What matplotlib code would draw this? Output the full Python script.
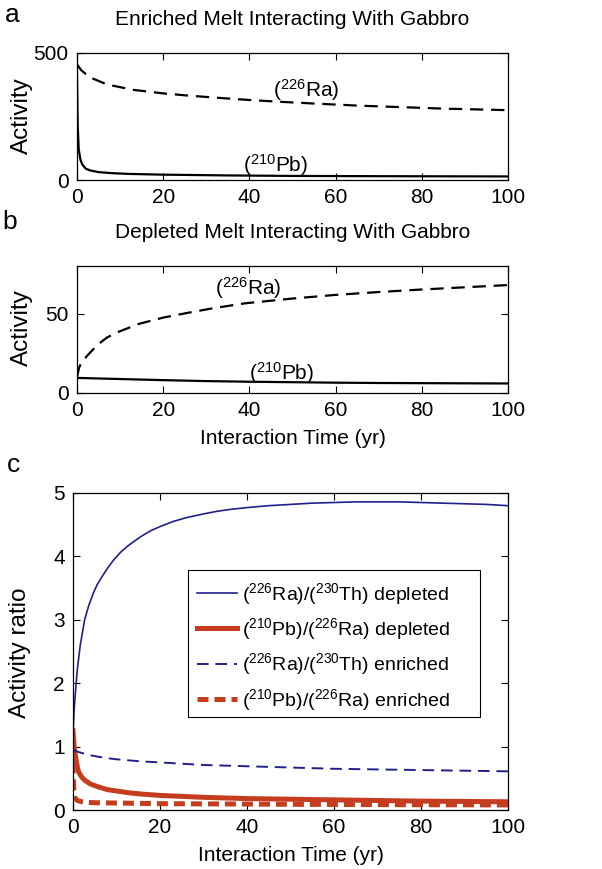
import matplotlib
matplotlib.use("Agg")
import matplotlib.pyplot as plt
from matplotlib.patches import Rectangle

plt.rcParams['font.family'] = ['Liberation Sans', 'DejaVu Sans']
plt.rcParams['mathtext.fontset'] = 'custom'
plt.rcParams['mathtext.rm'] = 'Liberation Sans'
plt.rcParams['mathtext.it'] = 'Liberation Sans:italic'
plt.rcParams['mathtext.bf'] = 'Liberation Sans:bold'

# ---------------- data ----------------
# Panel a: enriched melt
t_a_ra = [0, 1, 3, 7, 13, 20, 26, 34, 40, 47, 55, 65, 75, 85, 100]
ra_enriched = [455, 432, 404, 376, 355, 341, 332, 322, 315, 308, 301, 293, 287, 281, 275]
t_a_pb = [0, 0.15, 0.4, 0.8, 1.2, 2, 3, 5, 8, 12, 20, 35, 50, 70, 100]
pb_enriched = [420, 220, 120, 80, 62, 45, 38, 31, 27, 24, 21, 18, 16, 15, 14]

# Panel b: depleted melt
t_b_ra = [0, 0.5, 1, 2.2, 4.8, 7, 9.6, 14.3, 20, 25.7, 31.8, 39, 50, 60, 70, 80, 90, 100]
ra_depleted = [10, 16, 19, 23, 30.5, 35, 38.5, 43.5, 47.5, 50.5, 53.5, 56.5, 59.5, 61.8, 63.6, 65.2, 66.6, 68]
t_b_pb = [0, 10, 20, 30, 40, 50, 60, 70, 80, 90, 100]
pb_depleted = [9.5, 8.8, 8.1, 7.5, 7.1, 6.8, 6.5, 6.3, 6.2, 6.1, 6.0]

# Panel c: activity ratios
t_c1 = [0, 0.3, 0.67, 1, 1.67, 2.67, 3.6, 4.67, 5.6, 6.67, 8, 9.3, 11, 12.7, 14.5, 16, 18, 20, 23, 26,
        30, 33, 36, 40, 45, 50, 55, 60, 65, 70, 75, 80, 85, 90, 95, 100]
rath_depleted = [1.2, 1.62, 1.95, 2.22, 2.6, 3.0, 3.22, 3.42, 3.56, 3.68, 3.82, 3.94, 4.07, 4.17, 4.26,
                 4.33, 4.41, 4.47, 4.55, 4.61, 4.67, 4.71, 4.74, 4.77, 4.80, 4.82, 4.84, 4.85, 4.86,
                 4.86, 4.86, 4.85, 4.84, 4.83, 4.82, 4.8]
t_c2 = [0, 0.15, 0.3, 0.5, 0.7, 1, 1.3, 2, 2.7, 4, 6, 8, 10, 13, 16, 20, 25, 30, 40, 50, 60, 70, 80, 90, 100]
pbra_depleted = [1.25, 1.1, 0.98, 0.87, 0.8, 0.68, 0.6, 0.52, 0.47, 0.41, 0.36, 0.32, 0.3, 0.27, 0.25,
                 0.23, 0.215, 0.2, 0.18, 0.17, 0.16, 0.15, 0.14, 0.135, 0.13]
t_c3 = [0, 1, 2, 3.5, 5, 7.5, 10, 15, 20, 25, 30, 40, 50, 60, 70, 80, 90, 100]
rath_enriched = [0.95, 0.92, 0.9, 0.87, 0.85, 0.82, 0.8, 0.77, 0.75, 0.73, 0.71, 0.69, 0.67, 0.65, 0.64,
                 0.63, 0.62, 0.61]
t_c4 = [0, 0.1, 0.2, 0.3, 0.5, 1, 2, 3, 5, 10, 20, 35, 50, 70, 100]
pbra_enriched = [0.75, 0.5, 0.32, 0.22, 0.18, 0.15, 0.13, 0.12, 0.115, 0.11, 0.1, 0.095, 0.09, 0.085, 0.08]

x_ticks = [0, 20, 40, 60, 80, 100]

legend_labels = [r'($^{226}$Ra)/($^{230}$Th) depleted',
                 r'($^{210}$Pb)/($^{226}$Ra) depleted',
                 r'($^{226}$Ra)/($^{230}$Th) enriched',
                 r'($^{210}$Pb)/($^{226}$Ra) enriched']

BLUE = '#20208a'
RED = '#c63c1e'
FS = 15
YFS = 17.5
W, H = 602, 869

fig = plt.figure(figsize=(6.02, 8.69), dpi=100)

def fx(px):
    return px / W

def fy(py):
    return 1 - py / H

def style(ax):
    ax.set_xlim(0, 100)
    ax.set_xticks(x_ticks)
    ax.tick_params(direction='in', length=5, width=0.8, top=True, right=True,
                   labelsize=FS, pad=6)
    for s in ax.spines.values():
        s.set_linewidth(0.9)

# Panel a
ax1 = fig.add_axes([fx(77), fy(180), 431 / W, 127 / H])
ax1.plot(t_a_ra, ra_enriched, color='black', lw=1.6, ls=(0, (6, 3.5)))
ax1.plot(t_a_pb, pb_enriched, color='black', lw=1.6)
style(ax1)
ax1.set_ylim(0, 500)
ax1.set_yticks([0, 500])
ax1.set_title('Enriched Melt Interacting With Gabbro', fontsize=FS, pad=20)
ax1.text(45.5, 327, r'($^{226}$Ra)', fontsize=FS, ha='left', va='baseline')
ax1.text(38.5, 33, r'($^{210}$Pb)', fontsize=FS, ha='left', va='baseline')
fig.text(fx(22), fy(116), 'Activity', fontsize=YFS, rotation=90, ha='center', va='center')
fig.text(fx(12), fy(15), 'a', fontsize=19, ha='center', va='center')

# Panel b
ax2 = fig.add_axes([fx(77), fy(393), 431 / W, 127 / H])
ax2.plot(t_b_ra, ra_depleted, color='black', lw=1.6, ls=(0, (6, 3.5)))
ax2.plot(t_b_pb, pb_depleted, color='black', lw=1.6)
style(ax2)
ax2.set_ylim(0, 80)
ax2.set_yticks([0, 50])
ax2.set_xlabel('Interaction Time (yr)', fontsize=FS, labelpad=6)
ax2.set_title('Depleted Melt Interacting With Gabbro', fontsize=FS, pad=20)
ax2.text(32, 62, r'($^{226}$Ra)', fontsize=FS, ha='left', va='baseline')
ax2.text(40, 8.5, r'($^{210}$Pb)', fontsize=FS, ha='left', va='baseline')
fig.text(fx(22), fy(328), 'Activity', fontsize=YFS, rotation=90, ha='center', va='center')
fig.text(fx(10), fy(222), 'b', fontsize=19, ha='center', va='center')

# Panel c
ax3 = fig.add_axes([fx(73), fy(810), 435 / W, 317 / H])
ax3.plot(t_c1, rath_depleted, color=BLUE, lw=1.2, label=legend_labels[0])
ax3.plot(t_c2, pbra_depleted, color=RED, lw=3.6, label=legend_labels[1])
ax3.plot(t_c3, rath_enriched, color=BLUE, lw=1.4, ls=(0, (6, 3.5)), label=legend_labels[2])
ax3.plot(t_c4, pbra_enriched, color=RED, lw=3.6, ls=(0, (2.2, 1.2)), label=legend_labels[3])
style(ax3)
ax3.set_ylim(0, 5)
ax3.set_yticks([0, 1, 2, 3, 4, 5])
ax3.set_xlabel('Interaction Time (yr)', fontsize=FS, labelpad=6)
fig.text(fx(20), fy(653), 'Activity ratio', fontsize=YFS, rotation=90, ha='center', va='center')
leg = ax3.legend(loc='upper left', bbox_to_anchor=(fx(197), fy(581)),
                 bbox_transform=fig.transFigure, fontsize=14, handlelength=2.06,
                 handletextpad=0.26, borderpad=0, labelspacing=0.48,
                 frameon=False, borderaxespad=0)
fig.add_artist(Rectangle((fx(188), fy(717)), 292 / W, 147 / H, transform=fig.transFigure,
                         fill=False, edgecolor='black', lw=0.8))
fig.text(fx(13), fy(465), 'c', fontsize=19, ha='center', va='center')

fig.savefig('out.png', dpi=100)
